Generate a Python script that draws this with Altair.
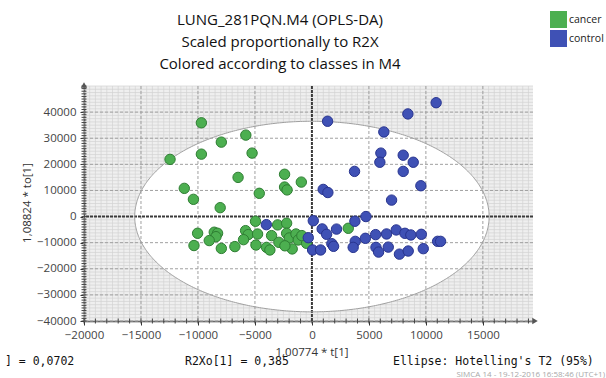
import altair as alt
import pandas as pd
import numpy as np

# ---------------- data ----------------
cancer_x = [-9700, -5800, -7950, -9700, -5250, -12450, -2400, -6480, -930, -11200,
            -2400, -2180, -4620, -10400, -8050,
            -4950, -10030, -8570, -8280, -8420, -9010, -10350, -7950, -6760,
            -5820, -5590, -6000, -4770, -4910, -3980, -3690, -3540, -3010, -2220,
            -2220, -2900, -1990, -1400, -1200, -1730, -470, -2370, -880, 3190]
cancer_y = [35900, 31200, 28500, 23900, 24300, 21900, 16200, 15000, 13200, 10800,
            11300, 10200, 8900, 6600, 3400,
            -1800, -6400, -6000, -6400, -7700, -9200, -11100, -12200, -11500,
            -5400, -6900, -8850, -6700, -10900, -11800, -12800, -7300, -3200, -2550,
            -6400, -9870, -8200, -6670, -8970, -12400, -10250, -11200, -7300, -4490]

control_x = [1375, 10900, 8420, 6310, 6050, 5960, 8010, 8890, 8010, 3740,
             9560, 990, 1400, 6990,
             4740, 3770, 120, -4000, 900, 2160, 1290, -320, 1750, 1900,
             60, 760, 3800, 3620, 4690, 5590, 6550, 7400, 8160, 8680,
             9600, 5620, 5850, 6700, 7680, 8450, 9770, 11030, 11290]
control_y = [36500, 43600, 39300, 32400, 24300, 20800, 23500, 20800, 17300, 17300,
             11800, 10400, 9200, 6300,
             0, -1800, -1600, -3100, -4740, -4800, -6800, -8100, -10400, -11400,
             -12800, -12800, -9500, -11800, -8330, -6920, -6670, -5130, -6410, -7050,
             -6800, -11800, -13600, -11700, -14400, -13200, -12300, -9490, -9500]

classes = ["cancer", "control"]
class_colors = ["#4caf50", "#3f51b5"]
class_strokes = ["#2e7d32", "#28348f"]

x_ticks = [-20000, -15000, -10000, -5000, 0, 5000, 10000, 15000]
y_ticks = [-40000, -30000, -20000, -10000, 0, 10000, 20000, 30000, 40000]
x_domain = [-20000, 19400]
y_domain = [-40000, 50000]

ellipse_a = 15550   # Hotelling's T2 (95%) semi-axis along t[1]
ellipse_b = 36500   # semi-axis along to[1]

title_lines = ["LUNG_281PQN.M4 (OPLS-DA)", "Scaled proportionally to R2X",
               "Colored according to classes in M4"]
x_title = "1,00774 * t[1]"
y_title = "1,08824 * to[1]"
foot_left = "] = 0,0702"
foot_mid = "R2Xo[1] = 0,385"
foot_right = "Ellipse: Hotelling's T2 (95%)"
stamp = "SIMCA 14 - 19-12-2016 16:58:46 (UTC+1)"

# ---------------- tables ----------------
pts = pd.DataFrame({
    "x": cancer_x + control_x,
    "y": cancer_y + control_y,
    "cls": ["cancer"] * len(cancer_x) + ["control"] * len(control_x),
})

t_half = np.linspace(0, np.pi, 241)
ell_fill = pd.DataFrame({"x": ellipse_a * np.cos(t_half),
                         "y": ellipse_b * np.sin(t_half),
                         "y2": -ellipse_b * np.sin(t_half)})
t_full = np.linspace(0, 2 * np.pi, 481)
ell_line = pd.DataFrame({"x": ellipse_a * np.cos(t_full),
                         "y": ellipse_b * np.sin(t_full),
                         "i": np.arange(len(t_full))})

W, H = 449, 235
FONT = "Open Sans"
MONO = "DejaVu Sans Mono"

xs = alt.Scale(domain=x_domain, nice=False, zero=False)
ys = alt.Scale(domain=y_domain, nice=False, zero=False)
xaxis = alt.Axis(values=x_ticks, title=None, grid=False, labelFont=FONT, labelFontSize=11.5,
                 labelColor="#444", tickColor="#333", tickSize=4, domainColor="#333",
                 domainWidth=1.5, labelPadding=4, labelFlush=False, format="d")
yaxis = alt.Axis(values=y_ticks, title=None, grid=False, labelFont=FONT, labelFontSize=11.5,
                 labelColor="#444", tickColor="#333", tickSize=4, domainColor="#333",
                 domainWidth=1.5, labelPadding=4, format="d")


def X(f):
    return alt.X(f, type="quantitative", scale=xs, axis=xaxis)


def Y(f):
    return alt.Y(f, type="quantitative", scale=ys, axis=yaxis)


one = pd.DataFrame({"k": [0]})

# fine texture grid outside the ellipse
minor_x = pd.DataFrame({"v": list(range(-20000, 19401, 500))})
minor_y = pd.DataFrame({"v": list(range(-40000, 50001, 1250))})
tex_v = alt.Chart(minor_x).mark_rule(color="#d2d2d2", strokeWidth=0.7).encode(x=X("v"))
tex_h = alt.Chart(minor_y).mark_rule(color="#d2d2d2", strokeWidth=0.7).encode(y=Y("v"))

ellipse_fill = alt.Chart(ell_fill).mark_area(color="white", orient="vertical").encode(
    x=X("x"), y=Y("y"), y2="y2")

gx = pd.DataFrame({"v": [v for v in x_ticks if v != 0]})
gy = pd.DataFrame({"v": [v for v in y_ticks if v != 0]})
grid_v = alt.Chart(gx).mark_rule(color="#a0a0a0", strokeDash=[3, 2], strokeWidth=1).encode(x=X("v"))
grid_h = alt.Chart(gy).mark_rule(color="#a0a0a0", strokeDash=[3, 2], strokeWidth=1).encode(y=Y("v"))

zero = pd.DataFrame({"v": [0]})
zero_v = alt.Chart(zero).mark_rule(color="#3a3a3a", strokeDash=[3, 1], strokeWidth=2).encode(x=X("v"))
zero_h = alt.Chart(zero).mark_rule(color="#3a3a3a", strokeDash=[3, 1], strokeWidth=2).encode(y=Y("v"))

ellipse_line = alt.Chart(ell_line).mark_line(color="#a0a0a0", strokeWidth=1).encode(
    x=X("x"), y=Y("y"), order="i:Q")

# ruler ticks on the axes
rx = pd.DataFrame({"v": list(range(-20000, 19401, 1000))})
ry = pd.DataFrame({"v": list(range(-40000, 50001, 1000))})
ruler_x = alt.Chart(rx).mark_rule(color="#444", strokeWidth=1).encode(
    x=X("v"), y=alt.value(H - 2.5), y2=alt.value(H + 2.5))
ruler_y = alt.Chart(ry).mark_rule(color="#444", strokeWidth=1).encode(
    y=Y("v"), x=alt.value(-2.5), x2=alt.value(2.5))

arrow_up = alt.Chart(one).mark_point(shape="triangle-up", filled=True, color="#555",
                                     size=40, opacity=1).encode(
    x=alt.value(0), y=alt.value(-1))
arrow_right = alt.Chart(one).mark_point(shape="triangle-right", filled=True, color="#555",
                                        size=40, opacity=1).encode(
    x=alt.value(W + 2), y=alt.value(H))

points = alt.Chart(pts).mark_circle(size=108, opacity=1, strokeWidth=1).encode(
    x=X("x"), y=Y("y"),
    fill=alt.Fill("cls:N", scale=alt.Scale(domain=classes, range=class_colors),
                  legend=alt.Legend(title=None, orient="none", legendX=466, legendY=-75,
                                    symbolType="square", symbolSize=289, symbolStrokeWidth=0,
                                    labelFont=FONT, labelFontSize=10.5, labelColor="#222",
                                    labelOffset=2, rowPadding=2, symbolOpacity=1)),
    stroke=alt.Stroke("cls:N", scale=alt.Scale(domain=classes, range=class_strokes), legend=None),
)


def label(text, x, y, **kw):
    return alt.Chart(pd.DataFrame({"t": [text]})).mark_text(**kw).encode(
        text="t:N", x=alt.value(x), y=alt.value(y))


titles = [label(s, 196, yy, font=FONT, fontSize=15, color="#111", align="center",
                baseline="middle") for s, yy in zip(title_lines, [-66, -44, -22])]
xt = label(x_title, 228, 267, font=FONT, fontSize=11.5, color="#333", align="center", baseline="middle")
yt = label(y_title, -56, 117, font=FONT, fontSize=11.5, color="#333", align="center",
           baseline="middle", angle=270)
f1 = label(foot_left, -79, 275.5, font=MONO, fontSize=11.5, color="#111", align="left", baseline="middle")
f2 = label(foot_mid, 101, 275.5, font=MONO, fontSize=11.5, color="#111", align="left", baseline="middle")
f3 = label(foot_right, 309, 275.5, font=MONO, fontSize=11.5, color="#111", align="left", baseline="middle")
f4 = label(stamp, 521, 288.5, font=FONT, fontSize=8, color="#a8a8a8", align="right", baseline="middle")

chart = alt.layer(
    tex_v, tex_h, ellipse_fill, grid_v, grid_h, zero_v, zero_h, ellipse_line,
    ruler_x, ruler_y, arrow_up, arrow_right, points,
    *titles, xt, yt, f1, f2, f3, f4,
).properties(
    width=W, height=H,
    autosize=alt.AutoSizeParams(type="none"),
    padding={"left": 84, "top": 86, "right": 73, "bottom": 57},
    background="white",
).configure_view(stroke=None, fill="#efefef")

chart.save("out.html", embed_options={"renderer": "svg", "actions": False})
